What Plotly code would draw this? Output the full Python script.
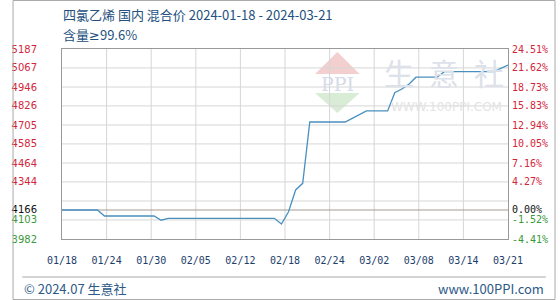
import plotly.graph_objects as go
import pandas as pd

# ---------------- data ----------------
start_date = "2024-01-18"
end_date = "2024-03-21"
dates = pd.date_range(start_date, end_date, freq="D")

prices = [
    4166, 4166, 4166, 4166, 4166, 4166,
    4128, 4128, 4128, 4128, 4128, 4128, 4128, 4128,
    4101,
    4113, 4113, 4113, 4113, 4113, 4113, 4113, 4113,
    4113, 4113, 4113, 4113, 4113, 4113, 4113, 4113,
    4077, 4155, 4293, 4335,
    4724, 4724, 4724, 4724, 4724, 4724,
    4747, 4771,
    4794, 4794, 4794, 4794,
    4910, 4933, 4963,
    5008, 5008, 5008, 5008,
    5043, 5043, 5043, 5043, 5043, 5043, 5043, 5043,
    5064, 5085,
]
base_price = 4166

x_tick_labels = ["01/18", "01/24", "01/30", "02/05", "02/12", "02/18",
                 "02/24", "03/02", "03/08", "03/14", "03/21"]
y_tick_vals = [3982, 4103, 4223, 4344, 4464, 4585, 4705, 4826, 4946, 5067, 5187]
y_tick_labels = ["3982", "4103", "", "4344", "4464", "4585", "4705", "4826", "4946", "5067", "5187"]
pct_tick_labels = ["-4.41%", "-1.52%", "", "4.27%", "7.16%", "10.05%", "12.94%",
                   "15.83%", "18.73%", "21.62%", "24.51%"]
base_label = "4166"
base_pct_label = "0.00%"

title_line1 = "四氯乙烯 国内 混合价 2024-01-18 - 2024-03-21"
title_line2 = "含量<span style='font-family:DejaVu Sans'>≥</span>99.6%"
footer_left = "© 2024.07 生意社"
footer_right = "www.100PPI.com"

# ---------------- styling ----------------
W, H = 560, 300
ML, MR, MT, MB = 51, 49, 49, 61
PW, PH = W - ML - MR, H - MT - MB
RED, GREEN, BLACK = "#d3263a", "#3a9a3a", "#111111"
LINE = "#4a90bf"
NAVY = "#23507e"
CJK = "Noto Sans CJK SC"
GRID = "#d6d6d6"


def px(x):
    return (x - ML) / PW


def py(y):
    return (H - MB - y) / PH


def colored(txt, val, ref):
    if txt == "":
        return ""
    c = RED if val > ref else (GREEN if val < ref else BLACK)
    return f"<span style='color:{c}'>{txt}</span>"


yl_vals = y_tick_vals + [base_price]
yl_text = [colored(t, v, base_price) for t, v in zip(y_tick_labels, y_tick_vals)] + \
          [colored(base_label, base_price, base_price)]
yr_text = [colored(t, v, base_price) for t, v in zip(pct_tick_labels, y_tick_vals)] + \
          [colored(base_pct_label, base_price, base_price)]

n_ticks = len(x_tick_labels)
span_days = (dates[-1] - dates[0]).days
x_tick_vals = [dates[0] + pd.Timedelta(days=span_days * i / (n_ticks - 1)) for i in range(n_ticks)]

yr = [y_tick_vals[0], y_tick_vals[-1]]

# grid lines at the tick positions (drawn as background line traces)
gx_v, gy_v = [], []
for tv in x_tick_vals[1:-1]:
    gx_v += [tv, tv, None]
    gy_v += [yr[0], yr[1], None]
gx_h, gy_h = [], []
for tv in y_tick_vals[1:-1]:
    gx_h += [dates[0], dates[-1], None]
    gy_h += [tv, tv, None]

fig = go.Figure()
fig.add_trace(go.Scatter(x=gx_v, y=gy_v, mode="lines", connectgaps=False,
                         line=dict(color=GRID, width=1), hoverinfo="skip", showlegend=False))
fig.add_trace(go.Scatter(x=gx_h, y=gy_h, mode="lines", connectgaps=False,
                         line=dict(color=GRID, width=1), hoverinfo="skip", showlegend=False))
fig.add_trace(go.Scatter(x=[dates[0], dates[-1]], y=[base_price, base_price], mode="lines",
                         line=dict(color="#a59b91", width=1.2), hoverinfo="skip", showlegend=False))
fig.add_trace(go.Scatter(x=dates, y=prices, mode="lines",
                         line=dict(color=LINE, width=1.3), showlegend=False))
fig.add_trace(go.Scatter(x=[dates[0]], y=[base_price], yaxis="y2", mode="markers",
                         marker=dict(opacity=0), hoverinfo="skip", showlegend=False))

fig.update_layout(
    width=W, height=H,
    margin=dict(l=ML, r=MR, t=MT, b=MB, pad=0),
    paper_bgcolor="white", plot_bgcolor="white",
    xaxis=dict(type="date", range=[dates[0], dates[-1]], tickmode="array",
               tickvals=x_tick_vals, ticktext=x_tick_labels,
               tickfont=dict(family="DejaVu Sans Mono", size=10, color="#1d3d6b"),
               showgrid=False,
               showline=True, linecolor="#999999", linewidth=1, mirror=True,
               ticks="", ticklabelstandoff=12, zeroline=False),
    yaxis=dict(range=yr, tickmode="array", tickvals=yl_vals, ticktext=yl_text,
               tickfont=dict(family="DejaVu Sans", size=10),
               showgrid=False,
               showline=True, linecolor="#999999", linewidth=1, mirror=True,
               ticks="", ticklabelstandoff=22, zeroline=False),
    yaxis2=dict(range=yr, overlaying="y", side="right", tickmode="array",
                tickvals=yl_vals, ticktext=yr_text,
                tickfont=dict(family="DejaVu Sans Mono", size=10),
                showgrid=False, zeroline=False, showline=False, ticks="",
                ticklabelstandoff=3),
)

annotations = [
    dict(text=title_line1, x=px(50), y=py(14.5), xanchor="left", yanchor="middle",
         font=dict(family=CJK, size=13, color=NAVY)),
    dict(text=title_line2, x=px(50), y=py(34), xanchor="left", yanchor="middle",
         font=dict(family=CJK, size=13, color=NAVY)),
    dict(text=footer_left, x=px(10), y=py(288), xanchor="left", yanchor="middle",
         font=dict(family=CJK, size=13, color="#2d5a87")),
    dict(text=footer_right, x=px(550), y=py(288), xanchor="right", yanchor="middle",
         font=dict(family=CJK, size=13, color="#2d5a87")),
    # watermark
    dict(text="PPI", x=px(335), y=py(84), xanchor="center", yanchor="middle",
         font=dict(family="DejaVu Serif", size=19, color="#d5dbe7")),
    dict(text="生\u2002意\u2002社", x=px(445), y=py(72), xanchor="center", yanchor="middle",
         font=dict(family=CJK, size=30, color="#dde1e9")),
    dict(text="WWW.100PPI.COM", x=px(448), y=py(107), xanchor="center", yanchor="middle",
         font=dict(family="DejaVu Sans", size=12, color="#e3e3e3")),
]
for a in annotations:
    a.update(xref="paper", yref="paper", showarrow=False)
fig.update_layout(annotations=annotations)


def path(points):
    return "M " + " L ".join(f"{px(x)},{py(y)}" for x, y in points) + " Z"


shapes = [
    dict(type="path", path=path([(335, 52), (358, 74), (312, 74)]),
         fillcolor="#f3cfcf", line=dict(width=0), layer="below"),
    dict(type="path", path=path([(312, 93), (358, 93), (335, 113)]),
         fillcolor="#d9ecd6", line=dict(width=0), layer="below"),
    dict(type="line", x0=px(10), x1=px(550), y0=py(277), y1=py(277),
         line=dict(color="#aaaaaa", width=1)),
    dict(type="rect", x0=px(0.5), x1=px(559.5), y0=py(0.5), y1=py(299.5),
         line=dict(color="#aaaaaa", width=1)),
]
for s in shapes:
    s.update(xref="paper", yref="paper")
fig.update_layout(shapes=shapes)

fig.write_html("out.html")
